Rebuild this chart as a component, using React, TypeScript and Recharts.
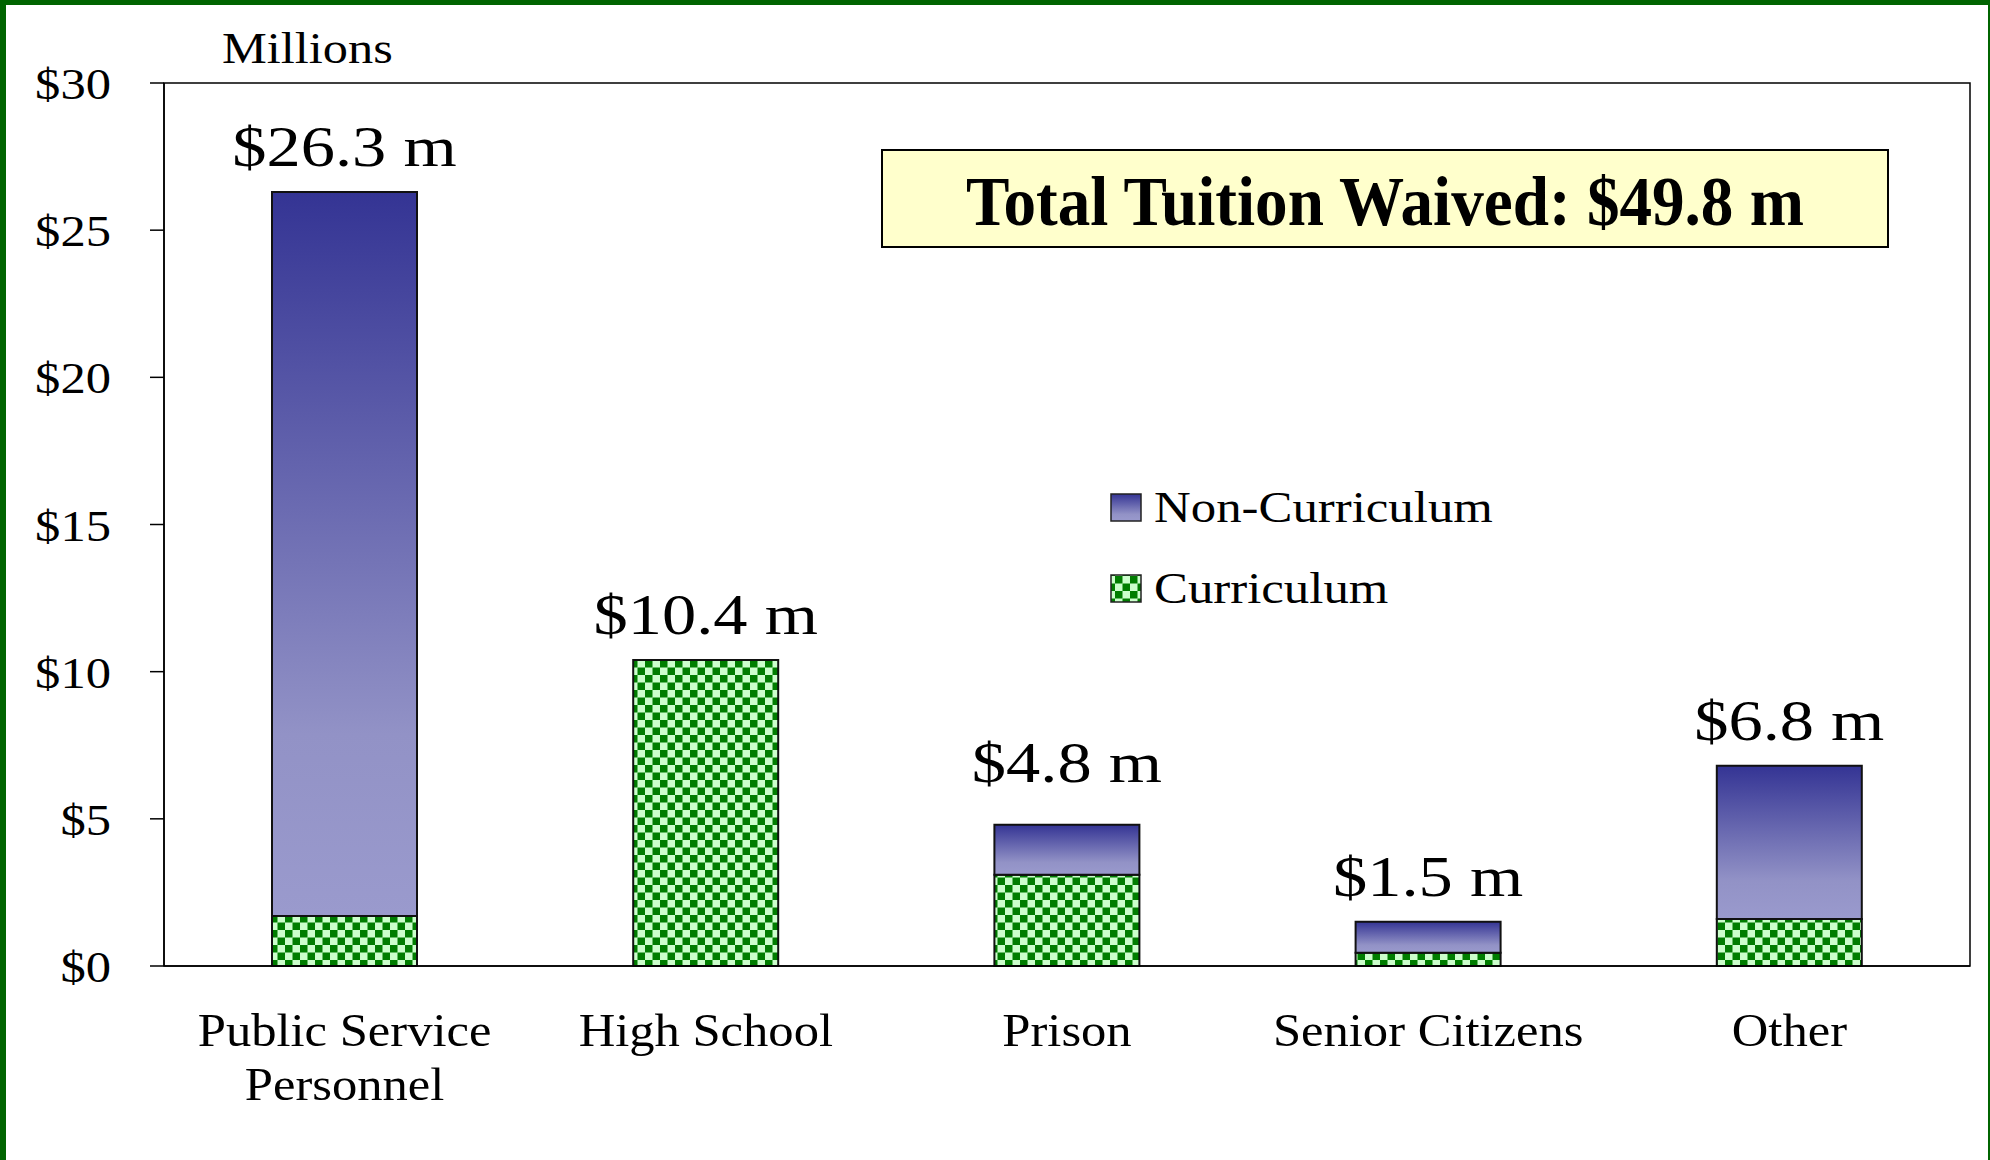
import { BarChart, Bar, XAxis, YAxis, ReferenceArea, LabelList, Legend } from 'recharts';

const categories = ['Public Service Personnel', 'High School', 'Prison', 'Senior Citizens', 'Other'];
const curriculum = [1.7, 10.4, 3.1, 0.45, 1.6];
const nonCurriculum = [24.6, 0, 1.7, 1.05, 5.2];
const yTicks = [0, 5, 10, 15, 20, 25, 30];
const edgeTicks = [0, 1, 2, 3, 4, 5];
const totalWaived = 49.8;

const data = categories.map((name, i) => ({
    name,
    curriculum: curriculum[i],
    nonCurriculum: nonCurriculum[i],
    total: curriculum[i] + nonCurriculum[i],
}));

const SERIF = '"Liberation Serif", "Times New Roman", serif';
const GREEN_FRAME = '#006400';
// Prison's label sits a little higher in the original
const LABEL_NUDGE: Record<string, number> = { Prison: 17 };

function splitLabel(s: string): string[] {
    const words = s.split(' ');
    if (words.length > 2) return [words.slice(0, -1).join(' '), words[words.length - 1]];
    return [s];
}

function YTick({ x, y, payload }: any) {
    return (
        <text
            transform={`translate(${x} ${y + 16}) scale(1.15 1)`}
            textAnchor="end"
            fontFamily={SERIF}
            fontSize={44}
            fill="#000"
        >
            {`$${payload.value}`}
        </text>
    );
}

function XTick({ x, y, payload }: any) {
    const lines = splitLabel(String(payload.value));
    return (
        <g>
            {lines.map((line, i) => (
                <text
                    key={i}
                    transform={`translate(${x} ${y + 80 + i * 54}) scale(1.1 1)`}
                    textAnchor="middle"
                    fontFamily={SERIF}
                    fontSize={46}
                    fill="#000"
                >
                    {line}
                </text>
            ))}
        </g>
    );
}

function NoTick() {
    return <g />;
}

// attached to the bottom (curriculum) segment; the stack top is found from
// that segment's own pixels-per-unit, so zero-height tops still get a label
function TotalLabel(props: any) {
    const vb = props.viewBox ?? props;
    const x = Number(vb.x ?? props.x);
    const y = Number(vb.y ?? props.y);
    const w = Number(vb.width ?? props.width);
    const h = Math.abs(Number(vb.height ?? props.height));
    const val = Number(props.value);
    let idx = data.findIndex((d) => Math.abs(d.total - val) < 1e-9);
    if (idx < 0) idx = 0;
    const d = data[idx];
    const top = Math.min(y, y + Number(vb.height ?? 0)) - (d.nonCurriculum * h) / d.curriculum;
    const nudge = LABEL_NUDGE[d.name] ?? 0;
    return (
        <text
            transform={`translate(${x + w / 2} ${top - 26 - nudge}) scale(1.18 1)`}
            textAnchor="middle"
            fontFamily={SERIF}
            fontSize={58}
            fill="#000"
        >
            {`$${val.toFixed(1)} m`}
        </text>
    );
}

function LegendBox({ payload }: any) {
    const items = (payload || []).slice().reverse();
    return (
        <svg width={420} height={140} style={{ display: 'block' }}>
            {items.map((entry: any, i: number) => (
                <g key={entry.value} transform={`translate(0 ${i * 81})`}>
                    <rect x={11} y={14} width={30} height={27} fill={entry.color} stroke="#222" strokeWidth={1.5} />
                    <text
                        transform="translate(54 42) scale(1.13 1)"
                        fontFamily={SERIF}
                        fontSize={45}
                        fill="#000"
                    >
                        {entry.value}
                    </text>
                </g>
            ))}
        </svg>
    );
}

export default function App() {
    return (
        <div
            style={{
                position: 'absolute',
                left: 0,
                top: 0,
                width: 1990,
                height: 1160,
                background: '#fff',
                fontFamily: SERIF,
            }}
        >
            <BarChart width={1990} height={1160} data={data} margin={{ top: 83, right: 20, bottom: 0, left: 0 }}>
                <defs>
                    <linearGradient id="blueGrad" x1="0" y1="0" x2="0" y2="1">
                        <stop offset="0%" stopColor="#343494" />
                        <stop offset="75%" stopColor="#9292c6" />
                        <stop offset="100%" stopColor="#9a9acd" />
                    </linearGradient>
                    <pattern id="checker" patternUnits="userSpaceOnUse" width={15} height={15}>
                        <rect width={15} height={15} fill="#ccffcc" />
                        <rect width={7.5} height={7.5} fill="#007d00" />
                        <rect x={7.5} y={7.5} width={7.5} height={7.5} fill="#007d00" />
                    </pattern>
                </defs>
                <XAxis
                    xAxisId="edges"
                    type="number"
                    domain={[0, 5]}
                    ticks={edgeTicks}
                    interval={0}
                    axisLine={false}
                    tickLine={{ stroke: '#000', strokeWidth: 1.5 }}
                    tickSize={12}
                    height={0}
                    tick={NoTick}
                />
                <XAxis
                    xAxisId="cat"
                    dataKey="name"
                    interval={0}
                    axisLine={{ stroke: '#000', strokeWidth: 1.5 }}
                    tickLine={false}
                    tickSize={0}
                    tickMargin={0}
                    height={194}
                    tick={<XTick />}
                />
                <YAxis
                    domain={[0, 30]}
                    ticks={yTicks}
                    interval={0}
                    width={164}
                    tickSize={14}
                    tickMargin={39}
                    axisLine={{ stroke: '#000', strokeWidth: 1.5 }}
                    tickLine={{ stroke: '#000', strokeWidth: 1.5 }}
                    tick={<YTick />}
                />
                <ReferenceArea xAxisId="cat" y1={0} y2={30} fill="none" stroke="#000" strokeWidth={1.5} ifOverflow="visible" />
                <Legend
                    layout="vertical"
                    align="center"
                    verticalAlign="middle"
                    content={<LegendBox />}
                    wrapperStyle={{ left: 1100, top: 480, width: 420, height: 140 }}
                />
                <Bar
                    xAxisId="cat"
                    dataKey="curriculum"
                    name="Curriculum"
                    stackId="a"
                    fill="url(#checker)"
                    stroke="#111"
                    strokeWidth={2}
                    barSize={145}
                    isAnimationActive={false}
                >
                    <LabelList dataKey="total" content={<TotalLabel />} />
                </Bar>
                <Bar
                    xAxisId="cat"
                    dataKey="nonCurriculum"
                    name="Non-Curriculum"
                    stackId="a"
                    fill="url(#blueGrad)"
                    stroke="#111"
                    strokeWidth={2}
                    barSize={145}
                    isAnimationActive={false}
                />
            </BarChart>
            <svg width={1990} height={1160} style={{ position: 'absolute', left: 0, top: 0, pointerEvents: 'none' }}>
                <text transform="translate(222 63) scale(1.12 1)" fontFamily={SERIF} fontSize={45} fill="#000">
                    Millions
                </text>
                <rect x={882} y={150} width={1006} height={97} fill="#ffffcc" stroke="#000" strokeWidth={2} />
                <text
                    x={1385}
                    y={225}
                    textAnchor="middle"
                    fontFamily={SERIF}
                    fontWeight="bold"
                    fontSize={70}
                    textLength={838}
                    lengthAdjust="spacingAndGlyphs"
                    fill="#000"
                >
                    {`Total Tuition Waived: $${totalWaived.toFixed(1)} m`}
                </text>
            </svg>
            <div
                style={{
                    position: 'absolute',
                    left: 0,
                    top: 0,
                    width: 1990,
                    height: 1160,
                    boxSizing: 'border-box',
                    borderLeft: `6px solid ${GREEN_FRAME}`,
                    borderTop: `5px solid ${GREEN_FRAME}`,
                    borderRight: `2px solid ${GREEN_FRAME}`,
                    pointerEvents: 'none',
                }}
            />
        </div>
    );
}
